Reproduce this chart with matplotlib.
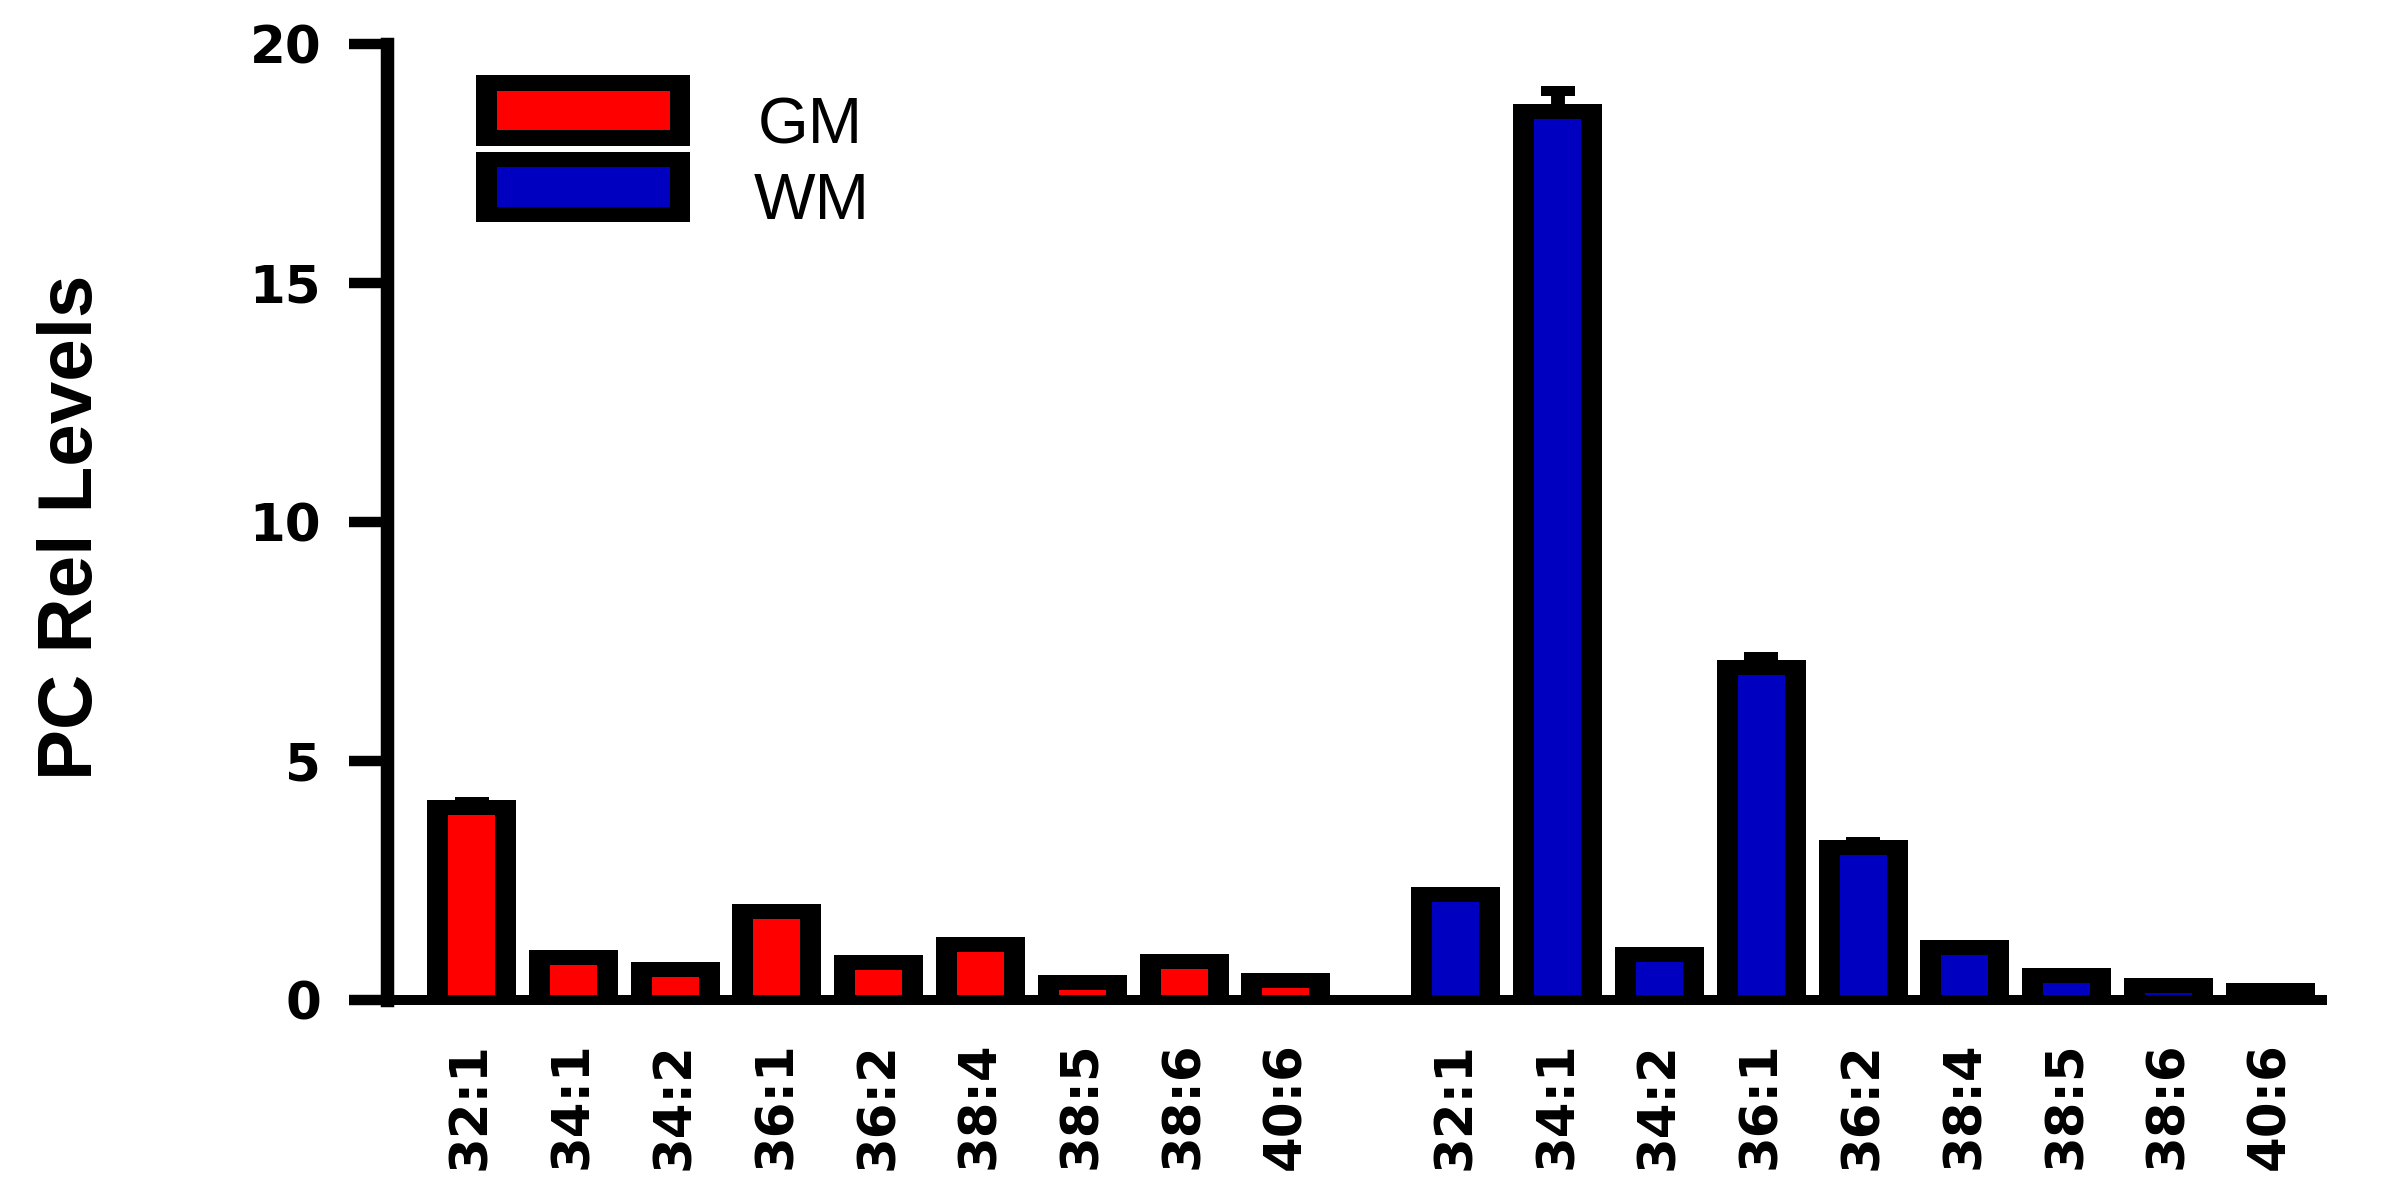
import matplotlib.pyplot as plt
from matplotlib.patches import Rectangle
import numpy as np

# PC species, same order for both tissues
species = ['32:1', '34:1', '34:2', '36:1', '36:2', '38:4', '38:5', '38:6', '40:6']
gm_levels = [4.03, 0.89, 0.63, 1.86, 0.78, 1.16, 0.37, 0.80, 0.40]
gm_sem = [0.11, 0.04, 0.04, 0.04, 0.04, 0.04, 0.04, 0.04, 0.04]
wm_levels = [2.21, 18.60, 0.95, 6.96, 3.19, 1.10, 0.51, 0.31, 0.20]
wm_sem = [0.04, 0.42, 0.04, 0.22, 0.12, 0.04, 0.04, 0.04, 0.04]
groups = ['GM', 'WM']
colors = ['#ff0000', '#0000c0']
y_ticks = [0, 5, 10, 15, 20]

W, H = 2395, 1203
fig = plt.figure(figsize=(W / 100, H / 100), dpi=100)

# axes box in pixels (left spine at 387, zero line at y=1000, 20 at y=44.5)
x_left, x_right = 387, 2322
ax = fig.add_axes([x_left / W, 203 / H, (x_right - x_left) / W, (1000 - 44.5) / H])

px_x = 101.8            # pixels per category step
px_y = 955.5 / 20       # pixels per y unit
half_edge = 7.5 / px_y  # top border of bars, in data units
outer_w = 89 / px_x
inner_w = 47 / px_x

n = len(species)
gm_x = np.arange(n)
wm_x = np.arange(n) + n + 0.67

for xs, vals, sem, col in [(gm_x, gm_levels, gm_sem, colors[0]),
                           (wm_x, wm_levels, wm_sem, colors[1])]:
    vals = np.array(vals)
    ax.errorbar(xs, vals, yerr=[np.zeros(n), sem], fmt='none', ecolor='k',
                elinewidth=10, capsize=11.9, capthick=7.2, zorder=0.8)
    ax.bar(xs, vals + half_edge, width=outer_w, color='k', zorder=1)
    ax.bar(xs, np.clip(vals - half_edge, 0, None), width=inner_w, color=col, zorder=1.1)

ax.set_xlim((x_left - 471.5) / px_x, (x_right - 471.5) / px_x)
ax.set_ylim(0, 20)

for s in ['top', 'right']:
    ax.spines[s].set_visible(False)
ax.spines['left'].set_linewidth(9.7)
ax.spines['bottom'].set_linewidth(7.2)

ax.set_yticks(y_ticks)
ax.set_yticklabels([str(t) for t in y_ticks], fontfamily='DejaVu Sans',
                   fontweight='bold', fontsize=37)
ax.tick_params(axis='y', length=27.4, width=7.5, pad=20)

ax.set_xticks(np.concatenate([gm_x, wm_x]))
ax.set_xticklabels(species + species, rotation=90, fontfamily='DejaVu Sans',
                   fontweight='bold', fontsize=37)
ax.tick_params(axis='x', length=0, pad=30)

fig.text(92 / W, 1 - 527 / H, 'PC Rel Levels', rotation=90, rotation_mode='anchor',
         ha='center', va='baseline', fontfamily='Liberation Sans',
         fontweight='bold', fontsize=55)

# legend: thick black frame with coloured core
def box(x0, y0, x1, y1, color):
    fig.add_artist(Rectangle((x0 / W, 1 - y1 / H), (x1 - x0) / W, (y1 - y0) / H,
                             transform=fig.transFigure, color=color, lw=0))

box(476, 75, 690, 146, 'k')
box(497, 91, 670, 130, colors[0])
box(476, 152, 690, 222, 'k')
box(497, 167, 670, 207, colors[1])
fig.text(810 / W, 1 - 144 / H, groups[0], ha='center', va='baseline',
         fontfamily='Liberation Sans', fontsize=47)
fig.text(812 / W, 1 - 219 / H, groups[1], ha='center', va='baseline',
         fontfamily='Liberation Sans', fontsize=47)

fig.savefig('out.png', dpi=100)
